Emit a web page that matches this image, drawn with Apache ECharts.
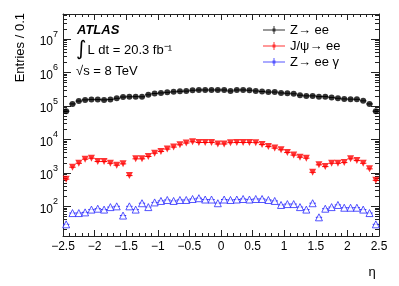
<!DOCTYPE html>
<html>
<head>
<meta charset="utf-8">
<script src="https://cdn.jsdelivr.net/npm/echarts@6/dist/echarts.min.js"></script>
<style>html,body{margin:0;padding:0;background:#fff}#c{width:399px;height:286px}</style>
</head>
<body>
<div id="c"></div>
<script>
// ---- data ----
const eta = [-2.45,-2.35,-2.25,-2.15,-2.05,-1.95,-1.85,-1.75,-1.65,-1.55,-1.45,-1.35,-1.25,-1.15,-1.05,-0.95,-0.85,-0.75,-0.65,-0.55,-0.45,-0.35,-0.25,-0.15,-0.05,0.05,0.15,0.25,0.35,0.45,0.55,0.65,0.75,0.85,0.95,1.05,1.15,1.25,1.35,1.45,1.55,1.65,1.75,1.85,1.95,2.05,2.15,2.25,2.35,2.45];
const binWidth = 0.1;
const zee = [7.0e4,1.15e5,1.40e5,1.52e5,1.55e5,1.55e5,1.52e5,1.56e5,1.70e5,1.85e5,1.88e5,1.90e5,1.88e5,2.15e5,2.35e5,2.45e5,2.55e5,2.65e5,2.75e5,2.78e5,2.95e5,3.0e5,3.0e5,3.0e5,3.0e5,3.0e5,2.8e5,3.0e5,3.0e5,2.95e5,2.8e5,2.7e5,2.6e5,2.6e5,2.45e5,2.4e5,2.3e5,2.1e5,2.0e5,2.0e5,1.9e5,1.9e5,1.78e5,1.7e5,1.62e5,1.6e5,1.58e5,1.42e5,1.15e5,7.0e4];
const jpsi = [650,1480,1940,2570,2750,2180,2180,1940,1700,1860,830,2630,2630,3090,3890,4370,5150,5900,6900,7800,8500,8100,8100,8100,7300,7300,8000,8100,8100,8100,8000,7000,6100,5500,4900,4050,3400,2950,2750,1040,1740,1540,1940,1940,2030,2630,2330,1940,1320,600];
const zeeg = [29,63,63,66,80,85,80,95,100,53,100,80,124,95,131,145,155,145,155,155,166,175,160,160,124,160,155,160,166,160,166,166,155,145,110,117,117,95,80,124,47,85,95,110,91,91,91,80,63,29];
const seriesNames = ['Z\u2192 ee', 'J/\u03c8\u2192 ee', 'Z\u2192 ee \u03b3'];
const xTickValues = [-2.5,-2,-1.5,-1,-0.5,0,0.5,1,1.5,2,2.5];
const xTickLabels = ['\u22122.5','\u22122','\u22121.5','\u22121','\u22120.5','0','0.5','1','1.5','2','2.5'];
const yTickValues = [1e2,1e3,1e4,1e5,1e6,1e7];
const yRange = [13, 5.6e7];
const yMinorTicks = [];
for (let e = 1; e <= 7; e++) for (let m = 2; m <= 9; m++) { const v = m * Math.pow(10, e); if (v >= yRange[0] && v <= yRange[1]) yMinorTicks.push(v); }

// ---- chart ----
const FONT = '"Liberation Sans", Arial, Helvetica, sans-serif';
const AX = '#222';
const chart = echarts.init(document.getElementById('c'));
const pts = arr => eta.map((x, i) => [x, arr[i]]);
const xLabel = v => { for (let i = 0; i < xTickValues.length; i++) if (Math.abs(xTickValues[i] - v) < 1e-6) return xTickLabels[i]; return ''; };
const powLabel = v => '{b|10}{s|' + Math.round(Math.log10(v)) + '}';
const powRich = {
  b: {fontSize: 12, fontFamily: FONT, color: '#000', lineHeight: 18, verticalAlign: 'bottom'},
  s: {fontSize: 9, fontFamily: FONT, color: '#000', lineHeight: 10, verticalAlign: 'top'}
};
function xAxisDef(pos, labels) {
  return {
    type: 'value', min: -2.5, max: 2.5, interval: 0.5, position: pos,
    axisLine: {show: true, onZero: false, lineStyle: {color: AX, width: 1}},
    axisTick: {show: true, inside: true, length: 6, lineStyle: {color: AX}},
    minorTick: {show: true, splitNumber: 5, length: 3, lineStyle: {color: AX}},
    splitLine: {show: false}, minorSplitLine: {show: false},
    axisLabel: {show: labels, formatter: xLabel, fontSize: 12, fontFamily: FONT, color: '#000', margin: 5}
  };
}
function yAxisDef(pos, major) {
  return {
    type: 'log', logBase: 10, min: yRange[0], max: yRange[1], position: pos,
    axisLine: {show: major, onZero: false, lineStyle: {color: AX, width: 1}},
    axisTick: {show: true, inside: true, length: major ? 8 : 4, customValues: major ? yTickValues : yMinorTicks, lineStyle: {color: AX}},
    axisLabel: {show: major && pos === 'left', customValues: yTickValues, formatter: powLabel, rich: powRich, margin: 5},
    splitLine: {show: false}, minorTick: {show: false}
  };
}
function errBars(arr, color) {
  return {
    type: 'custom', xAxisIndex: 0, yAxisIndex: 0, silent: true, z: 1,
    data: pts(arr),
    renderItem: (params, api) => {
      const x = api.value(0), y = api.value(1);
      const a = api.coord([x - binWidth / 2, y]);
      const b = api.coord([x + binWidth / 2, y]);
      return {type: 'line', shape: {x1: a[0], y1: a[1], x2: b[0], y2: b[1]}, style: {stroke: color, lineWidth: 1}};
    }
  };
}
const iconPath = 'path://M0,4.5L22,4.5L22,5.5L0,5.5Z M10.5,1L11.5,1L11.5,9L10.5,9Z M9.5,3.5L12.5,3.5L12.5,6.5L9.5,6.5Z';
const BLUE = '#2a2aff';
chart.setOption({
  animation: false,
  backgroundColor: '#fff',
  grid: {left: 63, right: 20, top: 14, bottom: 50},
  xAxis: [xAxisDef('bottom', true), xAxisDef('top', false)],
  yAxis: [yAxisDef('left', true), yAxisDef('left', false), yAxisDef('right', true), yAxisDef('right', false)],
  legend: {
    orient: 'vertical', left: 263, top: 23, itemWidth: 22, itemHeight: 10, itemGap: 2, padding: 0,
    textStyle: {fontSize: 13, fontFamily: FONT, color: '#000', lineHeight: 14},
    data: [
      {name: seriesNames[0], icon: iconPath, itemStyle: {color: '#000', borderWidth: 0}},
      {name: seriesNames[1], icon: iconPath, itemStyle: {color: '#ff0000', borderWidth: 0}},
      {name: seriesNames[2], icon: iconPath, itemStyle: {color: BLUE, borderWidth: 0}}
    ]
  },
  graphic: [
    {type: 'text', left: 77, top: 24, style: {text: 'ATLAS', font: 'italic bold 13px ' + FONT, fill: '#000'}},
    {type: 'text', left: 76, top: 40, style: {
      text: '{i|\u222b}{t|L dt = 20.3 fb\u207b\u00b9}',
      rich: {
        i: {fontSize: 20, fontFamily: '"DejaVu Sans", sans-serif', fill: '#000', lineHeight: 24, padding: [0, 1, 0, 0]},
        t: {fontSize: 13, fontFamily: FONT, fill: '#000', lineHeight: 24}
      }}},
    {type: 'text', left: 76, top: 65, style: {text: '\u221as = 8 TeV', font: '13px ' + FONT, fill: '#000'}},
    {type: 'text', x: 20, y: 13, rotation: Math.PI / 2, style: {text: 'Entries / 0.1', font: '13px ' + FONT, fill: '#000', align: 'right', verticalAlign: 'middle'}},
    {type: 'text', x: 372, y: 272, style: {text: '\u03b7', font: '13px ' + FONT, fill: '#000', align: 'center', verticalAlign: 'middle'}}
  ],
  series: [
    errBars(zee, '#000'),
    errBars(jpsi, '#ff0000'),
    errBars(zeeg, BLUE),
    {name: seriesNames[0], type: 'scatter', xAxisIndex: 0, yAxisIndex: 0, data: pts(zee), symbol: 'circle', symbolSize: 6, itemStyle: {color: '#000'}, z: 3},
    {name: seriesNames[1], type: 'scatter', xAxisIndex: 0, yAxisIndex: 0, data: pts(jpsi), symbol: 'triangle', symbolRotate: 180, symbolSize: 7, itemStyle: {color: '#ff0000'}, z: 3},
    {name: seriesNames[2], type: 'scatter', xAxisIndex: 0, yAxisIndex: 0, data: pts(zeeg), symbol: 'triangle', symbolSize: 7, itemStyle: {color: '#fff', borderColor: BLUE, borderWidth: 1}, z: 3}
  ]
});
</script>
</body>
</html>
